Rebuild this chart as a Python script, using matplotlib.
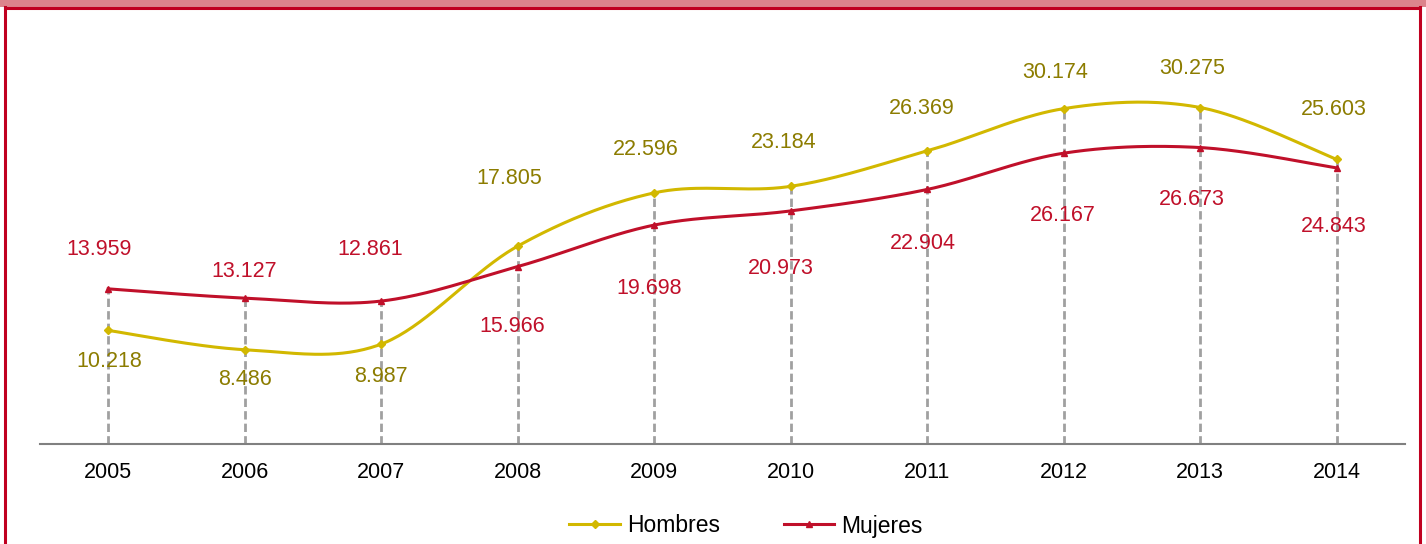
import numpy as np
import matplotlib
matplotlib.use("Agg")
import matplotlib.pyplot as plt
from matplotlib.patches import Rectangle
from matplotlib.lines import Line2D

plt.rcParams['font.family'] = ['Liberation Sans', 'DejaVu Sans']

years = ['2005', '2006', '2007', '2008', '2009', '2010', '2011', '2012', '2013', '2014']
hombres = [10.218, 8.486, 8.987, 17.805, 22.596, 23.184, 26.369, 30.174, 30.275, 25.603]
mujeres = [13.959, 13.127, 12.861, 15.966, 19.698, 20.973, 22.904, 26.167, 26.673, 24.843]

# label offsets in pixels (dx, dy), style only
h_off = [(1, -31), (0, -30), (0, -32), (-9, 68), (-8, 43), (-7, 44), (-5, 42), (-9, 36), (-8, 39), (-3, 50)]
m_off = [(-9, 39), (-1, 27), (-11, 52), (-6, -60), (-5, -63), (-10, -58), (-4, -54), (-1, -62), (-8, -52), (-3, -59)]

C_H = '#D2B800'
C_H_TXT = '#8C7C00'
C_M = '#C0102A'
C_M_TXT = '#C0102A'
FRAME = '#C00020'
BAND = '#DC848C'

W, H = 1426, 544
fig = plt.figure(figsize=(W / 100, H / 100), dpi=100)

# frame
fig.patches.append(Rectangle((0, 1 - 7 / H), 1, 7 / H, transform=fig.transFigure,
                             facecolor=BAND, edgecolor='none', zorder=0))
fig.add_artist(Line2D([5 / W, 1420 / W], [1 - 8 / H, 1 - 8 / H], transform=fig.transFigure,
                      color=FRAME, lw=2.2))
fig.add_artist(Line2D([5 / W, 5 / W], [0, 1 - 7 / H], transform=fig.transFigure, color=FRAME, lw=2.2))
fig.add_artist(Line2D([1420 / W, 1420 / W], [0, 1 - 7 / H], transform=fig.transFigure, color=FRAME, lw=2.2))

ax = fig.add_axes([40 / W, (H - 444) / H, (1405 - 40) / W, (444 - 55) / H])
x = np.arange(len(years))
ax.set_xlim(-0.5, len(years) - 0.5)
ax.set_ylim(0, 35)


def smooth(xs, ys, n=40):
    P = np.column_stack([xs, ys]).astype(float)
    out = []
    for i in range(len(P) - 1):
        p0 = P[i - 1] if i > 0 else P[i]
        p1 = P[i]
        p2 = P[i + 1]
        p3 = P[i + 2] if i + 2 < len(P) else P[i + 1]
        c1 = p1 + (p2 - p0) / 6
        c2 = p2 - (p3 - p1) / 6
        t = np.linspace(0, 1, n)[:, None]
        seg = (1 - t) ** 3 * p1 + 3 * (1 - t) ** 2 * t * c1 + 3 * (1 - t) * t ** 2 * c2 + t ** 3 * p2
        out.append(seg if i == 0 else seg[1:])
    pts = np.vstack(out)
    return pts[:, 0], pts[:, 1]


# drop lines
tops = np.maximum(hombres, mujeres)
ax.vlines(x, 0, tops, colors='#A0A0A0', linestyles=(0, (3, 1.5)), lw=2, zorder=1)

hx, hy = smooth(x, hombres)
mx, my = smooth(x, mujeres)
ax.plot(hx, hy, color=C_H, lw=2.2, zorder=3)
ax.plot(mx, my, color=C_M, lw=2.2, zorder=3)
ax.plot(x, hombres, ls='none', marker='D', ms=4, color=C_H, zorder=4)
ax.plot(x, mujeres, ls='none', marker='^', ms=5, color=C_M, zorder=4)

for i in range(len(years)):
    ax.annotate(f"{hombres[i]:.3f}", (x[i], hombres[i]), xytext=h_off[i], textcoords='offset pixels',
                ha='center', va='center', fontsize=15.5, color=C_H_TXT)
    ax.annotate(f"{mujeres[i]:.3f}", (x[i], mujeres[i]), xytext=m_off[i], textcoords='offset pixels',
                ha='center', va='center', fontsize=15.5, color=C_M_TXT)

for s in ['top', 'right', 'left']:
    ax.spines[s].set_visible(False)
ax.spines['bottom'].set_color('#808080')
ax.spines['bottom'].set_linewidth(1.5)
ax.set_yticks([])
ax.set_xticks(x)
ax.set_xticklabels(years, fontsize=15.5)
ax.tick_params(axis='x', length=0, pad=13)

handles = [Line2D([], [], color=C_H, lw=2.2, marker='D', ms=4),
           Line2D([], [], color=C_M, lw=2.2, marker='^', ms=5)]
fig.legend(handles, ['Hombres', 'Mujeres'], loc='center', bbox_to_anchor=(746 / W, 1 - 526 / H),
           ncol=2, frameon=False, fontsize=16.5, handlelength=2.2, handletextpad=0.3,
           columnspacing=2.8)

fig.savefig('out.png', dpi=100)
